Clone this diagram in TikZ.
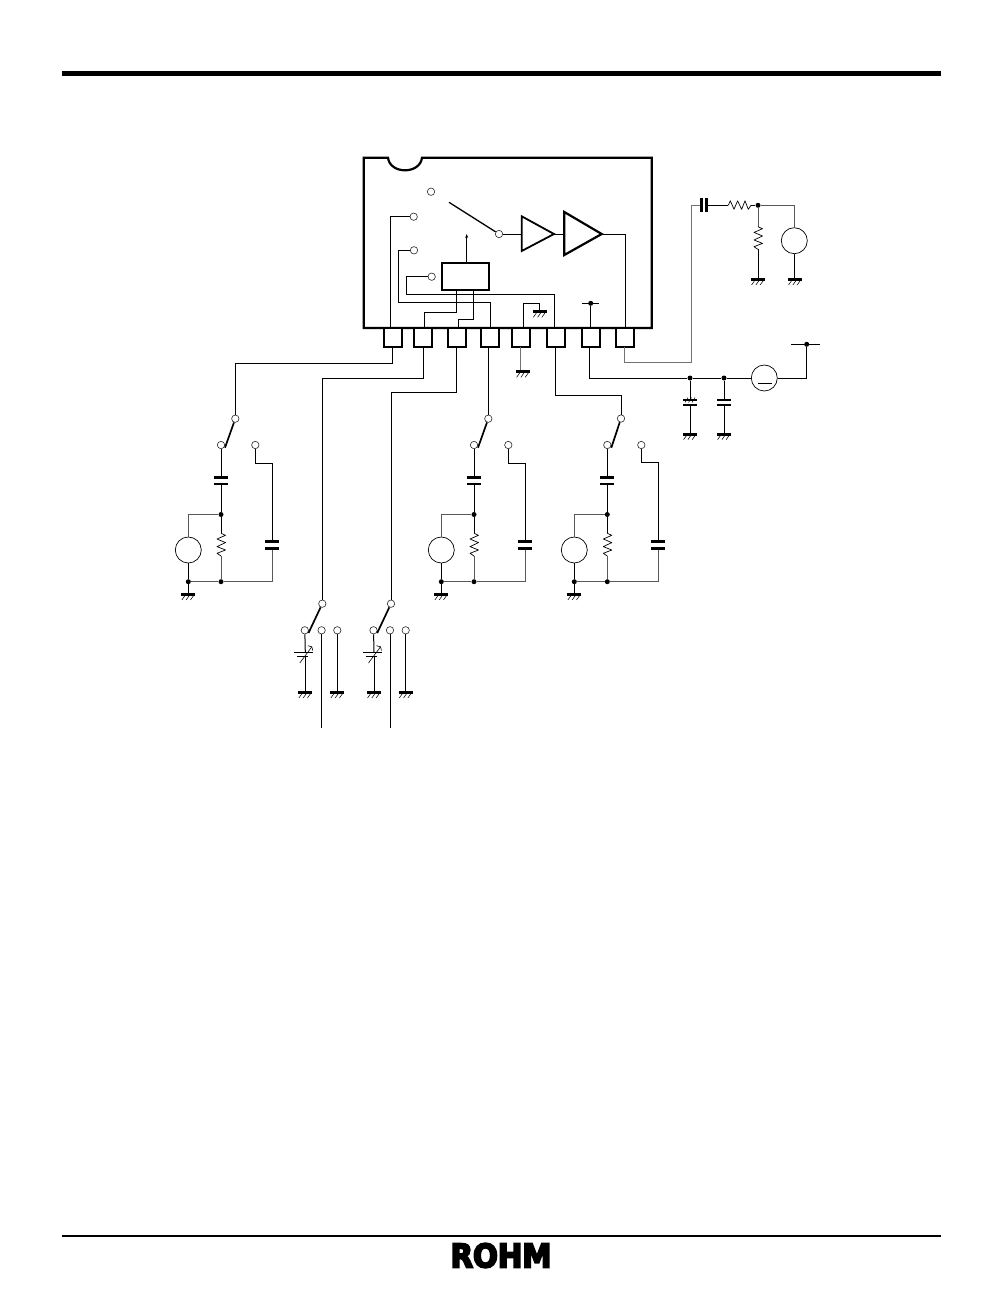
\documentclass[tikz,border=0pt]{standalone}
\usepackage{fontspec}
\newfontfamily\logofont[RawFeature={embolden=6}]{DejaVu Sans Bold}
\usetikzlibrary{arrows.meta,calc}
\tikzset{
  x=1pt,y=-1pt,
  wire/.style={line width=1pt,black},
  graywire/.style={line width=1pt,black!55},
  thinwire/.style={line width=1pt,black!65},
  term/.style={circle,draw=black!85,line width=0.6pt,fill=white,inner sep=0pt,minimum size=7.4pt},
  source/.style={circle,draw=black,line width=0.7pt,fill=white,inner sep=0pt,minimum size=26pt},
  jdot/.style={circle,fill=black,inner sep=0pt,minimum size=5pt},
  pinbox/.style={rectangle,draw=black,line width=2pt,fill=white,inner sep=0pt,minimum width=18pt,minimum height=19pt},
  blockbox/.style={rectangle,draw=black,line width=2.2pt,fill=white,inner sep=0pt,minimum width=47.3pt,minimum height=27.3pt},
  ampl/.style={draw=black,line join=miter,fill=white},
  arm/.style={line width=1.7pt,black},
  plate/.style={line width=2.5pt,black},
  ground/.pic={
    \draw[line width=3pt] (-7,0) -- (7,0);
    \foreach \d in {-4.6,-0.3,4}{\draw[line width=0.55pt] (\d+1.2,1.4) -- (\d-1.8,5.6);}
  },
  vres/.pic={
    \draw[line width=0.7pt,line join=round] (0,0) -- (4.5,2) -- (-4,5.7) -- (4.5,9.3) -- (-4,13.3) -- (4.5,16.7) -- (-4,20) -- (0,22.7);
  },
  hres/.pic={
    \draw[line width=0.7pt,line join=round] (0,0) -- (2,-4.5) -- (5.7,4) -- (9.3,-4.5) -- (13.3,4) -- (16.7,-4.5) -- (20,4) -- (22.7,0);
  },
  hcap/.pic={
    \draw[plate] (-7,0) -- (7,0);
    \draw[plate] (-7,6.9) -- (7,6.9);
  },
  trimmer/.pic={
    \draw[line width=1pt] (-11,0) -- (8,0);
    \draw[line width=1pt] (-8,4.7) -- (3,4.7);
    \draw[line width=0.6pt] (-5.5,11) -- (6.5,-5.2);
    \draw[line width=0.6pt] (2.5,-6.3) -- (6.5,-5.2) -- (7.5,-1.5);
  }
}
\begin{document}
\begin{tikzpicture}
\useasboundingbox (0,0) rectangle (1003,1299);
% page rules
\coordinate (ruleAl) at (62,73.5); \coordinate (ruleAr) at (941,73.5);
\coordinate (ruleBl) at (62,1236); \coordinate (ruleBr) at (941,1236);
\draw[line width=5.5pt] (ruleAl) -- (ruleAr);
\draw[line width=1.5pt] (ruleBl) -- (ruleBr);
\node[inner sep=0pt] (logo) at (501,1255.5) {\resizebox{101pt}{24pt}{\logofont ROHM}};
% package
\draw[line width=2.2pt,fill=white] (363.7,157.7) -- (388,157.7) .. controls (390,174.5) and (420,174.5) .. (422,157.7)
  -- (651.7,157.7) -- (651.7,328) -- (363.7,328) -- cycle;
% pins
\foreach \n/\x in {1/392.7,2/423,3/457.2,4/490.3,5/521,6/556.3,7/591.3,8/624.7}{
  \node[pinbox] (pin\n) at (\x,337.5) {};
}
% inside IC
\node[term] (s1) at (431,191.7) {};
\node[term] (s2) at (413.7,216.7) {};
\node[term] (s3) at (414,250.3) {};
\node[term] (s4) at (431.7,276.7) {};
\node[term] (piv) at (499,234) {};
\coordinate (armfree) at (449,202.3);
\draw[line width=1.3pt] (armfree) -- (piv);
\coordinate (a1l) at (521.7,234);
\coordinate (a1r) at (554,234);
\coordinate (a2l) at (564.3,234);
\coordinate (a2r) at (601.7,234);
\draw[ampl,line width=1.8pt] (521.7,216.3) -- (521.7,251) -- (a1r) -- cycle;
\draw[ampl,line width=2.2pt] (564.3,212) -- (564.3,255) -- (a2r) -- cycle;
\draw[wire] (piv) -- (a1l);
\draw[wire] (a1r) -- (a2l);
\coordinate (p8t) at (625.3,328);
\draw[wire] (a2r) -| (p8t);
\node[blockbox] (ctl) at (465.7,276.3) {};
\coordinate (ctlarrow) at (466.7,234);
\draw[line width=0.9pt,-{Stealth[length=4pt,width=3pt]}] (466.7,262.7) -- (ctlarrow);
\coordinate (p1t) at (390.3,328);
\draw[wire] (s2) -| (p1t);
\coordinate (p4t) at (490.3,328);
\draw[wire] (s3) -| (398.7,302.3) -| (p4t);
\coordinate (p6t) at (554.3,328);
\draw[wire] (s4) -| (406.7,294.3) -| (p6t);
\coordinate (c2b) at (456.7,290);
\coordinate (p2t) at (424.3,328);
\draw[wire] (c2b) |- (424.3,312.3) -- (p2t);
\coordinate (c3b) at (473.7,290);
\coordinate (p3t) at (458.3,328);
\draw[wire] (c3b) |- (458.3,319.3) -- (p3t);
\coordinate (p5t) at (523.3,328);
\coordinate (ignd) at (539.7,311.7);
\draw[wire] (p5t) |- (539.7,303.7) -- (ignd);
\pic at (ignd) {ground};
\coordinate (p7t) at (590.7,328);
\node[jdot] (ivcc) at (590.7,303.3) {};
\coordinate (ivl) at (582,303.3); \coordinate (ivr) at (599,303.3);
\draw[wire] (ivl) -- (ivr);
\draw[wire] (p7t) -- (ivcc);
% below pins
\coordinate (viaa) at (392.7,347);
\node[term] (ta) at (235.3,418.7) {};
\draw[wire] (viaa) |- (235.3,363.3) -- (ta);
\node[term] (tb) at (488.3,418.7) {};
\coordinate (pin4b) at (488.3,347);
\draw[wire] (pin4b) -- (tb);
\node[term] (tc) at (621,418.5) {};
\coordinate (pin6b) at (555.3,347);
\draw[wire] (pin6b) |- (621,395) -- (tc);
\coordinate (pin5b) at (520.7,347);
\coordinate (g5) at (520.7,371.7);
\draw[graywire] (pin5b) -- (g5);
\pic at (523,371.7) {ground};
% three input stages
\foreach \n/\xt/\xb/\xo/\xr/\xs/\yw in {a/235.3/221/255.3/272.3/188.3/463.3,b/488.3/474/508.3/525.3/441.3/463.3,c/621/607.3/641.3/658.3/574.3/462.5}{
  \node[term] (b\n) at (\xb,445) {};
  \node[term] (o\n) at (\xo,445) {};
  \coordinate (arm\n) at (\xb+4,447.7);
  \draw[arm] (t\n) -- (arm\n);
  \coordinate (cu\n) at (\xb,477.3);
  \coordinate (cl\n) at (\xb,484.2);
  \node[jdot] (dt\n) at (\xb,514.5) {};
  \node[jdot] (db\n) at (\xb,581.7) {};
  \node[jdot] (dg\n) at (\xs,581.7) {};
  \node[source] (src\n) at (\xs,550) {};
  \coordinate (ru\n) at (\xb,533.3);
  \coordinate (rl\n) at (\xb,556);
  \coordinate (g\n) at (\xs,594.3);
  \coordinate (pu\n) at (\xr,541.7);
  \coordinate (pl\n) at (\xr,548.7);
  \draw[wire] (b\n) -- (cu\n);
  \draw[wire] (cl\n) -- (dt\n);
  \pic at (cu\n) {hcap};
  \draw[wire] (dt\n) -- (ru\n);
  \pic at (ru\n) {vres};
  \draw[thinwire] (rl\n) -- (db\n);
  \draw[thinwire] (dt\n) -| (src\n);
  \draw[wire] (src\n) -- (dg\n);
  \draw[wire] (dg\n) -- (g\n);
  \pic at (g\n) {ground};
  \draw[thinwire] (dg\n) -- (db\n) -| (pl\n);
  \draw[wire] (o\n) |- (\xr,\yw) -- (pu\n);
  \pic at (pu\n) {hcap};
}
% tuning switches
\foreach \n/\xt/\xa/\xb/\xc/\xx/\yy in {d/322.3/304.8/321.6/337.3/423.3/378.3,e/391/373.5/390/405.7/456.7/392.3}{
  \node[term] (t\n) at (\xt,603.7) {};
  \node[term] (x\n) at (\xa,630.3) {};
  \node[term] (y\n) at (\xb,630.3) {};
  \node[term] (z\n) at (\xc,630.3) {};
  \coordinate (arm\n) at (\xa+3.7,633);
  \draw[arm] (t\n) -- (arm\n);
  \coordinate (cap\n) at (\xa+.5,652);
  \coordinate (capl\n) at (\xa+.5,656.7);
  \coordinate (gx\n) at (\xa+.5,692.3);
  \coordinate (gz\n) at (\xc,692.3);
  \coordinate (fr\n) at (\xb,728.3);
  \draw[wire] (x\n) -- (cap\n);
  \draw[wire] (capl\n) -- (gx\n);
  \pic at (cap\n) {trimmer};
  \pic at (gx\n) {ground};
  \draw[wire] (y\n) -- (fr\n);
  \draw[wire] (z\n) -- (gz\n);
  \pic at (gz\n) {ground};
  \coordinate (via\n) at (\xx,347);
  \draw[wire] (via\n) |- (\xt,\yy) -- (t\n);
}
% output network
\coordinate (pin8b) at (624.3,347);
\coordinate (cou) at (701.7,205.3);
\coordinate (cov) at (706.7,205.3);
\draw[graywire] (pin8b) |- (691.3,362.3) |- (cou);
\draw[plate] (701.7,198.3) -- (701.7,211.7);
\draw[plate] (706.7,198.3) -- (706.7,211.7);
\coordinate (ro1) at (728.3,205.3);
\coordinate (ro2) at (751,205.3);
\node[jdot] (outd) at (758,205.3) {};
\draw[wire] (cov) -- (ro1);
\pic at (ro1) {hres};
\draw[wire] (ro2) -- (outd);
\node[source] (osrc) at (794.3,240.7) {};
\draw[thinwire] (outd) -| (osrc);
\coordinate (gos) at (794.3,279.3);
\draw[wire] (osrc) -- (gos);
\pic at (795,279.3) {ground};
\coordinate (rv1) at (758,226.7);
\coordinate (rv2) at (758,249.4);
\draw[thinwire] (outd) -- (rv1);
\pic at (rv1) {vres};
\coordinate (gor) at (758,279.3);
\draw[wire] (rv2) -- (gor);
\pic at (gor) {ground};
% power
\coordinate (pin7b) at (589.3,347);
\node[jdot] (d1) at (690,378) {};
\node[jdot] (d2) at (724,378) {};
\node[source] (batt) at (764.3,378) {};
\coordinate (bm1) at (758,383.3); \coordinate (bm2) at (771.7,383.3);
\draw[line width=0.7pt] (bm1) -- (bm2);
\draw[wire] (pin7b) |- (d1);
\draw[wire] (d1) -- (d2);
\draw[wire] (d2) -- (batt);
\node[jdot] (vcc) at (806.7,344.3) {};
\coordinate (vl) at (791,344.3); \coordinate (vr) at (819.7,344.3);
\draw[wire] (vl) -- (vr);
\draw[wire] (batt) -| (vcc);
\foreach \n/\x in {1/690,2/724}{
  \coordinate (pc\n) at (\x,400.3);
  \coordinate (pd\n) at (\x,405.3);
  \coordinate (pg\n) at (\x,434);
  \draw[wire] (d\n) -- (pc\n);
  \draw[plate,line width=2pt] (\x-6.7,400.3) -- (\x+6.7,400.3);
  \draw[plate,line width=2pt] (\x-6.7,405.3) -- (\x+6.7,405.3);
  \draw[wire] (pd\n) -- (pg\n);
  \pic at (pg\n) {ground};
}
\foreach \d in {-3.5,0,3.5}{\draw[line width=0.5pt] (690+\d+1.5,397.5) -- (690+\d-1.5,402.5);}
\end{tikzpicture}
\end{document}
